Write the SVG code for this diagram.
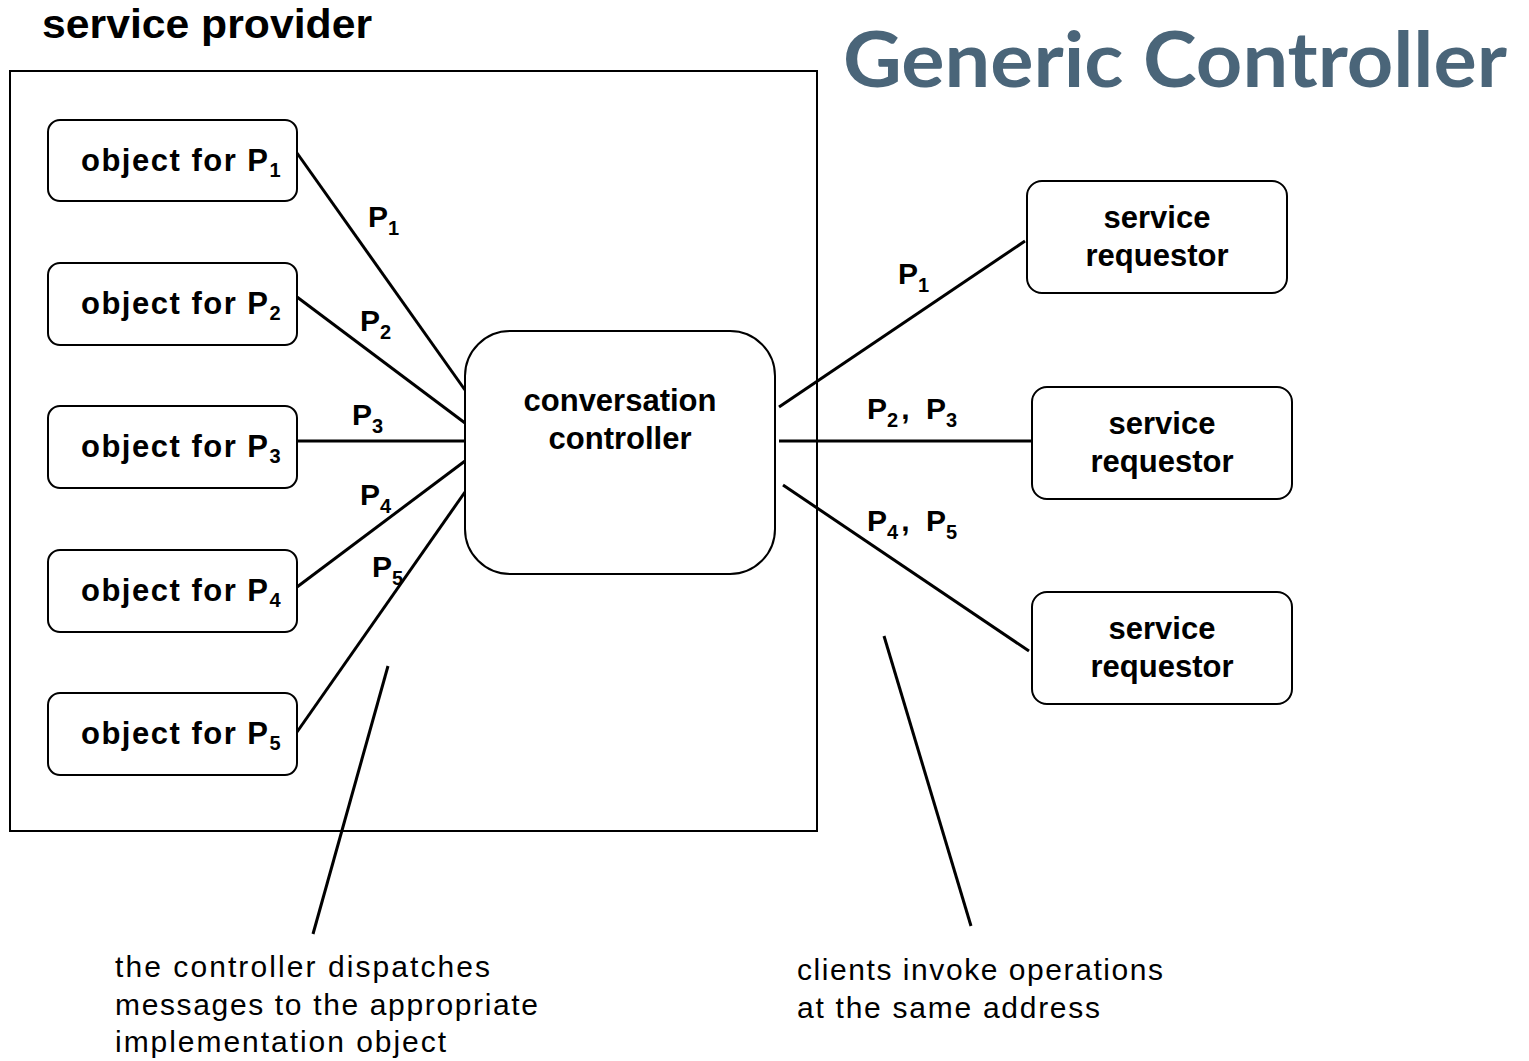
<svg xmlns="http://www.w3.org/2000/svg" width="1529" height="1061" viewBox="0 0 1529 1061">
<style>
.box{fill:#fff;stroke:#000;stroke-width:2}
.ln{stroke:#000;stroke-width:3;fill:none}
.b{font-family:"Liberation Sans",Arial,sans-serif;font-weight:bold;font-size:31px;fill:#000}
.o{letter-spacing:1.5px}
.lb{font-family:"Liberation Sans",Arial,sans-serif;font-weight:bold;font-size:30px;fill:#000}
.n{font-family:"Liberation Sans",Arial,sans-serif;font-size:30px;fill:#000}
.sub{font-size:20px}
.mid{text-anchor:middle}
</style>
<rect width="1529" height="1061" fill="#fff"/>
<text x="42" y="38" class="b" style="font-size:40px" textLength="330" lengthAdjust="spacingAndGlyphs">service provider</text>
<text x="843" y="87" font-family="Lato,'Open Sans',sans-serif" font-weight="bold" font-size="76" fill="#4a6579" textLength="664" lengthAdjust="spacingAndGlyphs">Generic Controller</text>
<g id="provider"><rect x="10" y="71" width="807" height="760" fill="none" stroke="#000" stroke-width="2"/></g>
<g id="connectors">
<line class="ln" x1="297" y1="153" x2="465" y2="390"/>
<line class="ln" x1="297" y1="297" x2="465" y2="423"/>
<line class="ln" x1="297" y1="441" x2="465" y2="441"/>
<line class="ln" x1="297" y1="587" x2="465" y2="461"/>
<line class="ln" x1="297" y1="732" x2="465" y2="492"/>
<line class="ln" x1="779" y1="407" x2="1025" y2="241"/>
<line class="ln" x1="779" y1="441" x2="1032" y2="441"/>
<line class="ln" x1="783" y1="485" x2="1029" y2="651"/>
<line class="ln" x1="388" y1="666" x2="313" y2="934"/>
<line class="ln" x1="884" y1="636" x2="971" y2="926"/>
<text x="368" y="227" class="lb">P<tspan class="sub" dy="8">1</tspan></text>
<text x="360" y="331" class="lb">P<tspan class="sub" dy="8">2</tspan></text>
<text x="352" y="425" class="lb">P<tspan class="sub" dy="8">3</tspan></text>
<text x="360" y="505" class="lb">P<tspan class="sub" dy="8">4</tspan></text>
<text x="372" y="577" class="lb">P<tspan class="sub" dy="8">5</tspan></text>
<text x="898" y="284" class="lb">P<tspan class="sub" dy="8">1</tspan></text>
<text x="867" y="419" class="lb">P<tspan class="sub" dy="8">2</tspan><tspan dy="-8" dx="3">,</tspan><tspan x="926">P</tspan><tspan class="sub" dy="8">3</tspan></text>
<text x="867" y="531" class="lb">P<tspan class="sub" dy="8">4</tspan><tspan dy="-8" dx="3">,</tspan><tspan x="926">P</tspan><tspan class="sub" dy="8">5</tspan></text>
</g>
<g id="obj1"><rect class="box" x="48" y="120" width="249" height="81" rx="12"/><text x="81" y="171" class="b o">object for P<tspan class="sub" dy="6">1</tspan></text></g>
<g id="obj2"><rect class="box" x="48" y="263" width="249" height="82" rx="12"/><text x="81" y="314" class="b o">object for P<tspan class="sub" dy="6">2</tspan></text></g>
<g id="obj3"><rect class="box" x="48" y="406" width="249" height="82" rx="12"/><text x="81" y="457" class="b o">object for P<tspan class="sub" dy="6">3</tspan></text></g>
<g id="obj4"><rect class="box" x="48" y="550" width="249" height="82" rx="12"/><text x="81" y="601" class="b o">object for P<tspan class="sub" dy="6">4</tspan></text></g>
<g id="obj5"><rect class="box" x="48" y="693" width="249" height="82" rx="12"/><text x="81" y="744" class="b o">object for P<tspan class="sub" dy="6">5</tspan></text></g>
<g id="controller"><rect class="box" x="465" y="331" width="310" height="243" rx="45"/><text x="620" y="411" class="b mid">conversation</text><text x="620" y="449" class="b mid">controller</text></g>
<g id="req1"><rect class="box" x="1027" y="181" width="260" height="112" rx="15"/><text x="1157" y="228" class="b mid">service</text><text x="1157" y="266" class="b mid">requestor</text></g>
<g id="req2"><rect class="box" x="1032" y="387" width="260" height="112" rx="15"/><text x="1162" y="434" class="b mid">service</text><text x="1162" y="472" class="b mid">requestor</text></g>
<g id="req3"><rect class="box" x="1032" y="592" width="260" height="112" rx="15"/><text x="1162" y="639" class="b mid">service</text><text x="1162" y="677" class="b mid">requestor</text></g>
<g id="note1">
<text x="115" y="977" class="n" textLength="375">the controller dispatches</text>
<text x="115" y="1015" class="n" textLength="423">messages to the appropriate</text>
<text x="115" y="1052" class="n" textLength="331">implementation object</text>
</g>
<g id="note2">
<text x="797" y="980" class="n" textLength="366">clients invoke operations</text>
<text x="797" y="1018" class="n" textLength="303">at the same address</text>
</g>
</svg>
